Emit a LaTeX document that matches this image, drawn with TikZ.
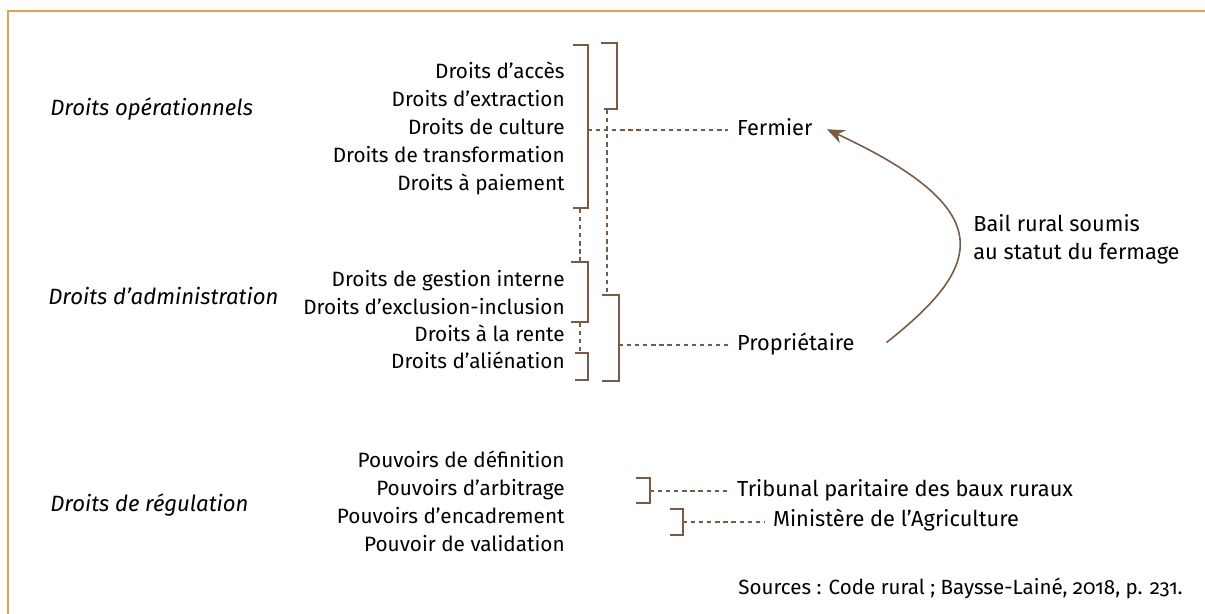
\documentclass[tikz,border=0pt]{standalone}
\usepackage{fontspec}
\setmainfont{Fira Sans}[Numbers=OldStyle]
\usepackage{xcolor}
\usetikzlibrary{arrows.meta,positioning,calc}
\definecolor{leasebrown}{HTML}{7A5A44}
\definecolor{frameorange}{HTML}{E2A24F}

\begin{document}
\begin{tikzpicture}[
    x=0.02cm, y=-0.02cm,
    right_item/.style={anchor=east, inner sep=0pt, text height=0.7em, text depth=0.2em, font=\fontsize{11.8}{14}\selectfont},
    group_label/.style={anchor=west, inner sep=0pt, text height=0.7em, text depth=0.2em, font=\fontsize{12.6}{15}\selectfont\itshape},
    actor/.style={anchor=west, inner xsep=5pt, inner ysep=0pt, text height=0.7em, text depth=0.2em, font=\fontsize{12.4}{15}\selectfont},
    bracket_line/.style={draw=leasebrown, line width=1.1pt},
    dashed_link/.style={draw=leasebrown, line width=0.8pt, dash pattern=on 2.4pt off 2.2pt},
    lease_arrow/.style={-{Stealth[length=10pt, width=8pt]}, draw=leasebrown, line width=0.9pt}
]
    \useasboundingbox (0,0) rectangle (1205,614);
    \draw[frameorange, line width=1.3pt] (8,614) -- (8,11) -- (1205,11);

    % --- Nodes ---
    % Group labels
    \node[group_label] (g_op)  at (50,111) {Droits opérationnels};
    \node[group_label] (g_adm) at (48,300) {Droits d’administration};
    \node[group_label] (g_reg) at (50,507) {Droits de régulation};

    % Operational rights
    \node[right_item] (acces)          at (565,74)  {Droits d’accès};
    \node[right_item] (extraction)     at (565,102) {Droits d’extraction};
    \node[right_item] (culture)        at (565,130) {Droits de culture};
    \node[right_item] (transformation) at (565,158) {Droits de transformation};
    \node[right_item] (paiement)       at (565,186) {Droits à paiement};

    % Administration rights
    \node[right_item] (gestion)    at (565,282) {Droits de gestion interne};
    \node[right_item] (exclusion)  at (565,310) {Droits d’exclusion-inclusion};
    \node[right_item] (rente)      at (565,337) {Droits à la rente};
    \node[right_item] (alienation) at (565,364) {Droits d’aliénation};

    % Regulation powers
    \node[right_item] (definition)  at (565,463) {Pouvoirs de définition};
    \node[right_item] (arbitrage)   at (565,491) {Pouvoirs d’arbitrage};
    \node[right_item] (encadrement) at (565,519) {Pouvoirs d’encadrement};
    \node[right_item] (validation)  at (565,547) {Pouvoir de validation};

    % Actors
    \node[actor] (fermier)   at (728,131) {Fermier};
    \node[actor] (proprio)   at (728,346) {Propriétaire};
    \node[actor] (tribunal)  at (728,492) {Tribunal paritaire des baux ruraux};
    \node[actor] (ministere) at (764,522) {Ministère de l’Agriculture};

    \node[anchor=west, inner sep=0pt, align=left, font=\fontsize{12.4}{15.9}\selectfont] (bail) at (973,239)
        {Bail rural soumis\\au statut du fermage};
    \node[anchor=east, inner sep=0pt, font=\fontsize{11.7}{14}\selectfont] (sources) at (1183,588)
        {Sources : Code rural ; Baysse-Lainé, 2018, p. 231.};

    % --- Brackets ---
    \draw[bracket_line] (573,45) -- (588,45) -- (588,208) -- (573,208);
    \draw[bracket_line] (601,43) -- (617,43) -- (617,109) -- (604,109);
    \draw[bracket_line] (571,262) -- (588,262) -- (588,322) -- (571,322);
    \draw[bracket_line] (575,353) -- (588,353) -- (588,380) -- (575,380);
    \draw[bracket_line] (602,295) -- (619,295) -- (619,381) -- (602,381);
    \draw[bracket_line] (636,478) -- (650,478) -- (650,503) -- (636,503);
    \draw[bracket_line] (670,509) -- (683,509) -- (683,535) -- (670,535);

    \coordinate (op_side)  at (588,130);
    \coordinate (pr_side)  at (619,345);
    \coordinate (ar_side)  at (650,491);
    \coordinate (en_side)  at (683,522);

    % --- Edges ---
    \draw[dashed_link] (580,209) -- (580,262);
    \draw[dashed_link] (580,323) -- (580,353);
    \draw[dashed_link] (607,110) -- (607,295);

    \draw[dashed_link] (op_side) -- (op_side -| fermier.west);
    \draw[dashed_link] (pr_side) -- (pr_side -| proprio.west);
    \draw[dashed_link] (ar_side) -- (ar_side -| tribunal.west);
    \draw[dashed_link] (en_side) -- (en_side -| ministere.west);

    \draw[lease_arrow] ([xshift=13pt, yshift=2pt]proprio.east) .. controls (985,265) and (1000,210) .. ([xshift=3pt, yshift=1pt]fermier.east);

\end{tikzpicture}
\end{document}
